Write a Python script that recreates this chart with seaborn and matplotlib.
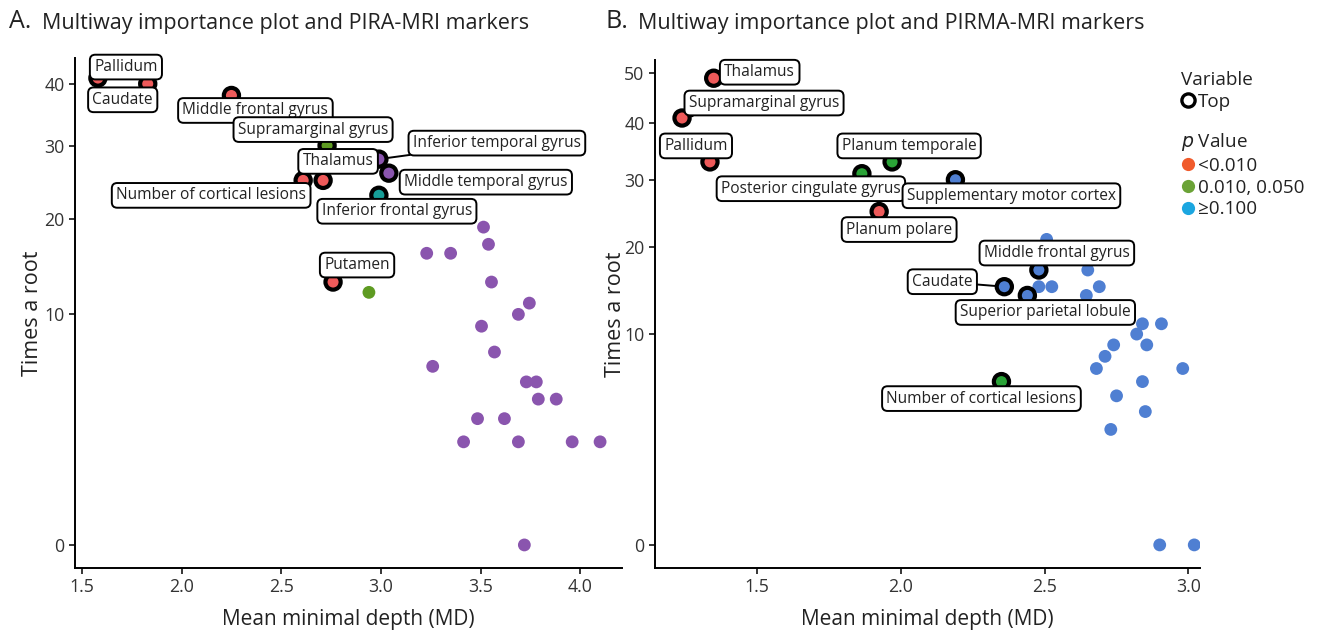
import numpy as np
import pandas as pd
import matplotlib
matplotlib.use("Agg")
import matplotlib.pyplot as plt
from matplotlib.lines import Line2D
import seaborn as sns

# ---------------- data: panel A (PIRA-MRI) ----------------
names_a = ["Pallidum", "Caudate", "Middle frontal gyrus", "Supramarginal gyrus",
           "Thalamus", "Number of cortical lesions", "Middle temporal gyrus",
           "Inferior temporal gyrus", "Inferior frontal gyrus", "Putamen"] + [""] * 22
md_a = [1.58, 1.83, 2.25, 2.73, 2.71, 2.61, 3.04, 2.99, 2.99, 2.76,
        2.94, 3.515, 3.54, 3.23, 3.35, 3.555, 3.745, 3.69, 3.505, 3.57, 3.26,
        3.73, 3.78, 3.79, 3.88, 3.485, 3.62, 3.415, 3.69, 3.96, 4.10, 3.72]
times_a = [41, 40, 38, 30, 25, 25, 26, 28, 23, 13,
           12, 19, 17, 16, 16, 13, 11, 10, 9, 7, 6,
           5, 5, 4, 4, 3, 3, 2, 2, 2, 2, 0]
pcat_a = ["<0.010", "<0.010", "<0.010", "0.010-0.050", "<0.010", "<0.010", ">=0.100",
          ">=0.100", "0.050-0.100", "<0.010",
          "0.010-0.050"] + [">=0.100"] * 21
top_a = [True] * 10 + [False] * 22

# ---------------- data: panel B (PIRMA-MRI) ----------------
names_b = ["Thalamus", "Supramarginal gyrus", "Pallidum", "Planum temporale",
           "Posterior cingulate gyrus", "Supplementary motor cortex", "Planum polare",
           "Middle frontal gyrus", "Caudate", "Superior parietal lobule",
           "Number of cortical lesions"] + [""] * 20
md_b = [1.35, 1.24, 1.337, 1.97, 1.865, 2.19, 1.925, 2.48, 2.36, 2.44, 2.35,
        2.507, 2.65, 2.48, 2.525, 2.69, 2.645, 2.84, 2.906, 2.82, 2.74, 2.855,
        2.71, 2.68, 2.98, 2.84, 2.75, 2.85, 2.73, 2.90, 3.02]
times_b = [49, 41, 33, 33, 31, 30, 25, 17, 15, 14, 6,
           21, 17, 15, 15, 15, 14, 11, 11, 10, 9, 9,
           8, 7, 7, 6, 5, 4, 3, 0, 0]
pcat_b = ["<0.010", "<0.010", "<0.010", "0.010-0.050", "0.010-0.050", ">=0.100",
          "<0.010", ">=0.100", ">=0.100", ">=0.100", "0.010-0.050"] + [">=0.100"] * 20
top_b = [True] * 11 + [False] * 20

# ---------------- label placement (offsets in px from point) ----------------
offs_a = {"Pallidum": (28, 11), "Caudate": (-25, -16), "Middle frontal gyrus": (24, -15),
          "Supramarginal gyrus": (-14, 16), "Thalamus": (15, 19),
          "Number of cortical lesions": (-92, -15), "Middle temporal gyrus": (97, -9),
          "Inferior temporal gyrus": (118, 16), "Inferior frontal gyrus": (18, -16),
          "Putamen": (24, 17)}
seg_a = {"Inferior temporal gyrus"}
offs_b = {"Thalamus": (46, 6), "Supramarginal gyrus": (82, 15), "Pallidum": (-14, 16),
          "Planum temporale": (17, 16), "Posterior cingulate gyrus": (-51, -15),
          "Supplementary motor cortex": (56, -16), "Planum polare": (20, -18),
          "Middle frontal gyrus": (18, 17), "Caudate": (-62, 5),
          "Superior parietal lobule": (18, -17), "Number of cortical lesions": (-20, -17)}
seg_b = {"Caudate", "Supramarginal gyrus"}

pal_a = {"<0.010": "#EE5A5A", "0.010-0.050": "#5E9B22", "0.050-0.100": "#169E98",
         ">=0.100": "#8A55AE"}
pal_b = {"<0.010": "#EE5A5A", "0.010-0.050": "#2AA337", ">=0.100": "#4F7FD2"}

sns.set_theme(style="ticks")
plt.rcParams["font.family"] = ["Open Sans", "DejaVu Sans"]

fig = plt.figure(figsize=(13.18, 6.35), dpi=100)
W, H = 1318, 635
axA = fig.add_axes([75 / W, 1 - 568 / H, (622 - 75) / W, (568 - 58) / H])
axB = fig.add_axes([655 / W, 1 - 568 / H, (1200 - 655) / W, (568 - 60) / H])


def fwd(v):
    v = np.asarray(v, dtype=float)
    return np.sign(v) * np.sqrt(np.abs(v))


def inv(u):
    u = np.asarray(u, dtype=float)
    return np.sign(u) * u ** 2


def draw(ax, names, md, times, pcat, top, pal, offs, segs, xlim, ylim, xticks, yticks,
         ylabelpad):
    df = pd.DataFrame({"name": names, "md": md, "times": times, "p": pcat, "top": top})
    ax.set_yscale("function", functions=(fwd, inv))
    rest = df[~df["top"]]
    tops = df[df["top"]]
    sns.scatterplot(data=rest, x="md", y="times", hue="p", palette=pal, s=85,
                    edgecolor="none", legend=False, ax=ax, zorder=3)
    sns.scatterplot(data=tops, x="md", y="times", hue="p", palette=pal, s=120,
                    edgecolor="black", linewidth=3.0, legend=False, ax=ax, zorder=4)
    ax.set_xlim(*xlim)
    ax.set_ylim(*ylim)
    ax.set_xticks(xticks)
    ax.set_xticklabels([f"{t:.1f}" for t in xticks])
    ax.set_yticks(yticks)
    ax.set_yticklabels([str(t) for t in yticks])
    for _, r in tops.iterrows():
        if not r["name"]:
            continue
        dx, dy = offs[r["name"]]
        arrow = None
        if r["name"] in segs:
            arrow = dict(arrowstyle="-", color="black", lw=1.4, shrinkA=0, shrinkB=7)
        ax.annotate(r["name"], (r["md"], r["times"]),
                    xytext=(dx * 0.72, dy * 0.72), textcoords="offset points",
                    ha="center", va="center", fontsize=11.2, color="#222222",
                    bbox=dict(boxstyle="round,pad=0.28,rounding_size=0.35",
                              fc="white", ec="black", lw=1.4),
                    arrowprops=arrow, zorder=6)
    sns.despine(ax=ax)
    for s in ["left", "bottom"]:
        ax.spines[s].set_linewidth(1.4)
        ax.spines[s].set_color("black")
    ax.tick_params(axis="both", labelsize=12.8, length=4, width=1.1, colors="black",
                   labelcolor="#333333")
    ax.set_xlabel("Mean minimal depth (MD)", fontsize=15, color="#222222", labelpad=9)
    ax.set_ylabel("Times a root", fontsize=15.5, color="#222222", labelpad=ylabelpad)
    ax.grid(False)


draw(axA, names_a, md_a, times_a, pcat_a, top_a, pal_a, offs_a, seg_a,
     (1.465, 4.21), (-0.1, 44.6), [1.5, 2.0, 2.5, 3.0, 3.5, 4.0], [0, 10, 20, 30, 40], 1)
draw(axB, names_b, md_b, times_b, pcat_b, top_b, pal_b, offs_b, seg_b,
     (1.146, 3.04), (-0.12, 52.9), [1.5, 2.0, 2.5, 3.0], [0, 10, 20, 30, 40, 50], -1)

# titles
fig.text(9 / W, 1 - 22 / H, "A.", fontsize=18, va="center", ha="left", color="#222222")
fig.text(42 / W, 1 - 23 / H, "Multiway importance plot and PIRA-MRI markers",
         fontsize=15.5, va="center", ha="left", color="#222222")
fig.text(606 / W, 1 - 22 / H, "B.", fontsize=18, va="center", ha="left", color="#222222")
fig.text(638 / W, 1 - 23 / H, "Multiway importance plot and PIRMA-MRI markers",
         fontsize=15.5, va="center", ha="left", color="#222222")

# legends
h1 = [Line2D([], [], marker="o", ls="none", mfc="white", mec="black", mew=2.4, ms=9.5)]
leg1 = fig.legend(h1, ["Top"], title="Variable", loc="upper left",
                  bbox_to_anchor=(1181 / W, 1 - 71 / H), frameon=False, fontsize=13.6,
                  title_fontsize=13.6, handlelength=0.7, handletextpad=0.2,
                  borderpad=0, borderaxespad=0, labelspacing=0.2, alignment="left")
leg_cols = {"<0.010": "#F05B2C", "0.010, 0.050": "#6BA337", "\u22650.100": "#1BA6E0"}
h2 = [Line2D([], [], marker="o", ls="none", mfc=c, mec="none", ms=9.5) for c in leg_cols.values()]
leg2 = fig.legend(h2, list(leg_cols.keys()), title="$p$ Value", loc="upper left",
                  bbox_to_anchor=(1181 / W, 1 - 131 / H), frameon=False, fontsize=13.6,
                  title_fontsize=13.6, handlelength=0.7, handletextpad=0.2,
                  borderpad=0, borderaxespad=0, labelspacing=0.2, alignment="left")
for lg in (leg1, leg2):
    for t in lg.get_texts():
        t.set_color("#222222")
    lg.get_title().set_color("#222222")

fig.savefig("out.png", dpi=100)
